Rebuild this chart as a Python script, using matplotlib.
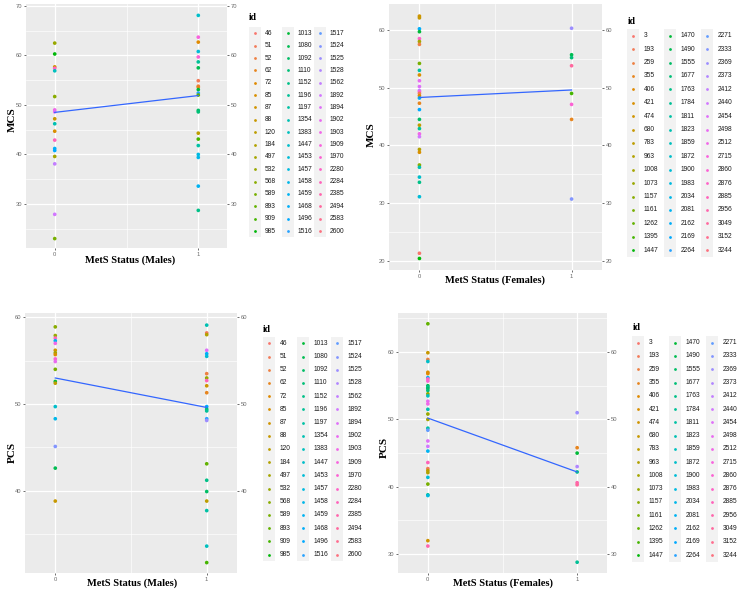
import numpy as np
import matplotlib
matplotlib.use('Agg')
import matplotlib.pyplot as plt
from matplotlib.patches import Rectangle

plt.rcParams['font.family'] = 'Liberation Sans'

# legend order of the ids (ggplot factor levels)
males_ids = [46, 51, 52, 62, 72, 85, 87, 88, 120, 184, 497, 532, 568, 589, 893, 909, 985,
             1013, 1080, 1092, 1110, 1152, 1196, 1197, 1354, 1383, 1447, 1453, 1457, 1458, 1459, 1468, 1496, 1516,
             1517, 1524, 1525, 1528, 1562, 1892, 1894, 1902, 1903, 1909, 1970, 2280, 2284, 2385, 2494, 2583, 2600]
females_ids = [3, 193, 259, 355, 406, 421, 474, 680, 783, 963, 1008, 1073, 1157, 1161, 1262, 1395, 1447,
               1470, 1490, 1555, 1677, 1763, 1784, 1811, 1823, 1859, 1872, 1900, 1983, 2034, 2081, 2162, 2169, 2264,
               2271, 2333, 2369, 2373, 2412, 2440, 2454, 2498, 2512, 2715, 2860, 2876, 2885, 2956, 3049, 3152, 3244]

# MCS, males
mcs_m_id0 = [532, 985, 87, 2280, 1383, 568, 1903, 1894, 88, 1354, 85, 2284, 1468, 1496, 497, 1562, 1892, 589]
mcs_m_y0 = [62.5, 60.3, 57.7, 57.4, 56.9, 51.7, 49.0, 48.6, 47.2, 46.2, 44.7, 42.9, 41.2, 40.8, 39.6, 38.1, 27.9, 23.0]
mcs_m_id1 = [1447, 1909, 72, 1453, 1970, 1196, 1080, 51, 52, 62, 1013, 1516, 893, 1092, 1110, 120, 909, 1197,
             1457, 1458, 1459, 1152]
mcs_m_y1 = [68.1, 63.7, 62.7, 60.8, 59.7, 58.7, 57.5, 54.9, 53.8, 53.6, 53.1, 52.4, 52.0, 48.9, 48.6, 44.3, 43.1, 41.8,
            40.0, 39.4, 33.6, 28.7]
mcs_m_fit = [48.5, 51.9]

# MCS, females
mcs_f_id0 = [474, 680, 2162, 1470, 2876, 1008, 259, 1161, 1811, 421, 2498, 2454, 2412, 2715, 193, 406, 2081, 355,
             2169, 1555, 783, 1784, 2512, 2440, 963, 421, 1157, 1823, 1872, 1763, 1900, 3, 1447]
mcs_f_y0 = [62.4, 62.1, 60.2, 59.7, 58.5, 58.0, 57.5, 54.2, 53.0, 52.2, 51.2, 50.2, 49.5, 49.3, 49.0, 48.6, 48.2, 47.3,
            46.2, 44.5, 43.5, 42.9, 42.0, 41.5, 39.3, 38.8, 36.6, 36.2, 34.5, 33.6, 31.1, 21.3, 20.4]
mcs_f_id1 = [2369, 1490, 1677, 3049, 1395, 2860, 355, 2333]
mcs_f_y1 = [60.3, 55.7, 55.2, 53.8, 49.0, 47.1, 44.5, 30.7]
mcs_f_fit = [48.3, 49.6]

# PCS, males
pcs_m_id0 = [568, 532, 2280, 1459, 1903, 87, 497, 85, 1970, 1902, 589, 1013, 120, 1447, 1458, 1524, 1080, 88]
pcs_m_y0 = [58.9, 57.9, 57.6, 57.3, 57.0, 56.2, 55.9, 55.7, 55.2, 54.9, 54.0, 52.6, 52.4, 49.7, 48.3, 45.1, 42.6, 38.8]
pcs_m_id1 = [1354, 51, 184, 1894, 1468, 1453, 52, 532, 2284, 87, 62, 1496, 1110, 1196, 1516, 1525, 893, 1152,
             1092, 120, 1197, 1383, 909]
pcs_m_y1 = [59.1, 58.2, 58.0, 56.2, 55.8, 55.5, 53.5, 53.0, 52.7, 52.1, 51.3, 49.7, 49.4, 49.2, 48.3, 48.1, 43.1, 41.2,
            39.9, 38.8, 37.7, 33.6, 31.7]
pcs_m_fit = [53.0, 49.6]

# PCS, females
pcs_f_id0 = [1262, 680, 259, 1872, 421, 406, 2162, 2876, 2860, 1490, 1784, 1555, 1677, 1157, 1859, 2498, 2512, 1823,
             1073, 1008, 1811, 2271, 2454, 2440, 2081, 2885, 193, 783, 963, 1900, 1161, 1763, 1983, 474, 2956]
pcs_f_y0 = [64.2, 59.9, 58.9, 58.6, 57.0, 56.8, 56.2, 56.0, 55.7, 55.0, 54.8, 54.6, 54.3, 53.8, 53.5, 52.7, 52.3, 51.5,
            50.8, 50.0, 48.7, 48.4, 46.8, 46.0, 45.3, 43.6, 42.7, 42.4, 42.1, 41.4, 40.4, 38.8, 38.7, 32.0, 31.2]
pcs_f_id1 = [2369, 355, 1470, 2373, 1763, 2956, 3049, 1784]
pcs_f_y1 = [51.0, 45.8, 45.0, 43.0, 42.2, 40.6, 40.3, 28.8]
pcs_f_fit = [50.2, 42.2]


def hue_colors(n, l=65, c=100):
    # ggplot2 default discrete palette: hcl(h, c, l)
    h = np.deg2rad(np.linspace(15, 375, n + 1)[:n])
    U = c * np.cos(h)
    V = c * np.sin(h)
    Y = ((l + 16) / 116) ** 3
    Xn, Yn, Zn = 0.95047, 1.0, 1.08883
    un = 4 * Xn / (Xn + 15 * Yn + 3 * Zn)
    vn = 9 * Yn / (Xn + 15 * Yn + 3 * Zn)
    u = U / (13 * l) + un
    v = V / (13 * l) + vn
    X = 9 * Y * u / (4 * v)
    Z = 3 * Y / v - X / 3 - 5 * Y
    M = np.array([[3.2404542, -1.5371385, -0.4985314],
                  [-0.9692660, 1.8760108, 0.0415560],
                  [0.0556434, -0.2040259, 1.0572252]])
    rgb = M @ np.vstack([X, np.full(n, Y), Z])
    rgb = np.where(rgb <= 0.0031308, 12.92 * rgb, 1.055 * np.abs(rgb) ** (1 / 2.4) - 0.055)
    return np.clip(rgb.T, 0, 1)


W, H = 740, 593
fig = plt.figure(figsize=(W / 100, H / 100), dpi=100)
fig.patch.set_facecolor('white')

serif = 'Liberation Serif'


def panel(box, ylim, yticks, id_levels, ids0, y0, ids1, y1, fit, xlab, ylab, xlab_pos, ylab_pos):
    l, t, r, b = box
    ax = fig.add_axes([l / W, 1 - b / H, (r - l) / W, (b - t) / H])
    ax.set_facecolor('#EBEBEB')
    for s in ax.spines.values():
        s.set_visible(False)
    ax.set_xlim(-0.2, 1.2)
    ax.set_ylim(*ylim)
    ax.set_xticks([0, 1])
    ax.set_xticks([0.5], minor=True)
    ax.set_yticks(yticks)
    ax.set_yticks([v + 5 for v in [yticks[0] - 10] + list(yticks)
                   if ylim[0] < v + 5 < ylim[1]], minor=True)
    ax.grid(which='major', color='white', linewidth=0.9)
    ax.grid(which='minor', color='white', linewidth=0.45)
    ax.set_axisbelow(True)
    ax.tick_params(which='major', length=1.6, width=0.5, color='#333333', labelsize=4.2,
                   labelcolor='#6b6b6b', pad=1)
    ax.tick_params(which='minor', length=0)
    ax.tick_params(axis='y', right=True, labelright=True)

    cols = hue_colors(len(id_levels))
    cmap = {k: cols[i] for i, k in enumerate(id_levels)}
    ax.scatter(np.zeros(len(y0)), y0, s=7, c=[cmap[k] for k in ids0], linewidths=0, zorder=3)
    ax.scatter(np.ones(len(y1)), y1, s=7, c=[cmap[k] for k in ids1], linewidths=0, zorder=3)
    ax.plot([0, 1], fit, color='#3366FF', linewidth=0.9, zorder=4)

    ax.set_xlabel(xlab, fontfamily=serif, fontweight='bold', fontsize=7.5, va='center')
    ax.set_ylabel(ylab, fontfamily=serif, fontweight='bold', fontsize=8, va='center')
    ax.xaxis.set_label_coords((xlab_pos[0] - l) / (r - l), (b - xlab_pos[1]) / (b - t))
    ax.yaxis.set_label_coords((ylab_pos[0] - l) / (r - l), (b - ylab_pos[1]) / (b - t))
    return ax


panel((26, 4, 227, 248), (21.1, 70.4), [30, 40, 50, 60, 70], males_ids,
      mcs_m_id0, mcs_m_y0, mcs_m_id1, mcs_m_y1, mcs_m_fit,
      'MetS Status (Males)', 'MCS', (130, 260), (12, 120))
panel((389, 4, 602, 270), (18.4, 64.5), [20, 30, 40, 50, 60], females_ids,
      mcs_f_id0, mcs_f_y0, mcs_f_id1, mcs_f_y1, mcs_f_fit,
      'MetS Status (Females)', 'MCS', (495, 280), (371, 135))
panel((25, 313, 237, 573), (30.5, 60.5), [40, 50, 60], males_ids,
      pcs_m_id0, pcs_m_y0, pcs_m_id1, pcs_m_y1, pcs_m_fit,
      'MetS Status (Males)', 'PCS', (132, 583), (12, 452))
panel((398, 313, 607, 573), (27.2, 65.8), [30, 40, 50, 60], females_ids,
      pcs_f_id0, pcs_f_y0, pcs_f_id1, pcs_f_y1, pcs_f_fit,
      'MetS Status (Females)', 'PCS', (503, 583), (384, 447))

# legends drawn on an overlay in pixel space
ov = fig.add_axes([0, 0, 1, 1])
ov.set_xlim(0, W)
ov.set_ylim(H, 0)
ov.axis('off')


def legend(levels, title_xy, x0, dx, y0, dy, tx):
    cols = hue_colors(len(levels))
    ov.text(title_xy[0], title_xy[1], 'id', fontfamily=serif, fontweight='bold', fontsize=7,
            ha='left', va='center')
    nrow = 17
    for c in range(3):
        xc = x0 + c * dx
        ov.add_patch(Rectangle((xc - 6, y0 - dy / 2), 12, dy * nrow, facecolor='#F2F2F2',
                               edgecolor='none'))
        for r in range(nrow):
            i = c * nrow + r
            yc = y0 + r * dy
            ov.scatter([xc], [yc], s=4, color=cols[i], linewidths=0)
            ov.text(xc + tx, yc, str(levels[i]), fontsize=4.8, color='#1a1a1a', ha='left', va='center')


legend(males_ids, (249, 18), 255, 32.5, 33.3, 12.36, 10)
legend(females_ids, (628, 22), 633, 37, 35.7, 13.4, 11)
legend(males_ids, (263, 329), 269, 34, 343.3, 13.2, 10.5)
legend(females_ids, (633, 328), 638, 37, 342.7, 13.27, 10.5)

fig.savefig('out.png', dpi=100)
